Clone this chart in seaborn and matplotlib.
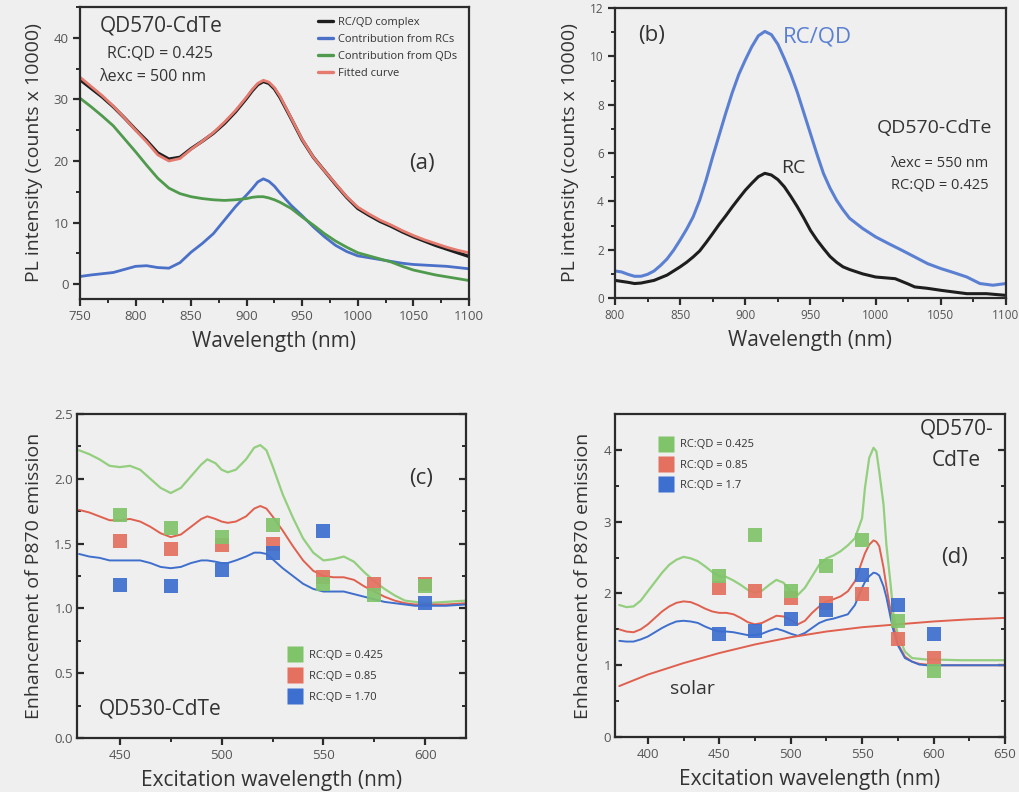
import numpy as np
import pandas as pd
import matplotlib
matplotlib.use("Agg")
import matplotlib.pyplot as plt
from matplotlib.lines import Line2D
from matplotlib.ticker import MultipleLocator, FormatStrFormatter
import seaborn as sns

# ---------------- data: panel (a) ----------------
wl_a = [750, 760, 770, 780, 790, 800, 810, 820, 830, 840, 850, 860, 870, 880, 890, 900,
        905, 910, 915, 920, 925, 930, 940, 950, 960, 970, 980, 990, 1000, 1010, 1020,
        1030, 1040, 1050, 1060, 1070, 1080, 1090, 1100]
complex_a = [33.2, 31.8, 30.4, 28.8, 27.0, 25.1, 23.3, 21.3, 20.3, 20.6, 22.0, 23.2, 24.5,
             26.1, 28.0, 30.2, 31.4, 32.4, 32.9, 32.6, 31.7, 30.3, 26.9, 23.4, 20.6, 18.4,
             16.2, 14.1, 12.3, 11.2, 10.2, 9.4, 8.5, 7.7, 7.0, 6.3, 5.7, 5.1, 4.5]
rcs_a = [1.25, 1.5, 1.7, 1.9, 2.4, 2.9, 3.0, 2.7, 2.6, 3.5, 5.2, 6.6, 8.2, 10.4, 12.6, 14.5,
         15.5, 16.6, 17.1, 16.7, 15.9, 14.8, 12.8, 11.1, 9.3, 7.7, 6.3, 5.3, 4.6, 4.3, 4.0,
         3.7, 3.4, 3.2, 3.1, 3.0, 2.9, 2.7, 2.5]
qds_a = [30.2, 28.8, 27.3, 25.7, 23.6, 21.5, 19.3, 17.2, 15.6, 14.7, 14.2, 13.9, 13.7, 13.6,
         13.7, 13.9, 14.1, 14.2, 14.2, 14.0, 13.7, 13.3, 12.3, 10.9, 9.6, 8.2, 7.0, 6.0,
         5.1, 4.6, 4.1, 3.6, 2.9, 2.3, 1.9, 1.5, 1.2, 0.9, 0.6]
fit_a = [33.6, 32.1, 30.6, 28.9, 27.0, 25.0, 23.1, 21.0, 20.0, 20.4, 21.9, 23.2, 24.6,
         26.3, 28.2, 30.4, 31.6, 32.6, 33.1, 32.8, 31.9, 30.5, 27.0, 23.5, 20.6, 18.4,
         16.3, 14.2, 12.5, 11.4, 10.4, 9.6, 8.7, 7.9, 7.2, 6.6, 6.0, 5.5, 5.1]

# ---------------- data: panel (b) ----------------
wl_b_rcqd = [800, 805, 810, 815, 820, 825, 830, 835, 840, 845, 850, 855, 860, 865, 870,
             875, 880, 885, 890, 895, 900, 905, 910, 915, 920, 925, 930, 935, 940, 945,
             950, 955, 960, 965, 970, 975, 980, 990, 1000, 1010, 1020, 1030, 1040, 1050,
             1060, 1070, 1080, 1090, 1100]
rcqd_b = [1.12, 1.08, 0.98, 0.90, 0.90, 0.98, 1.12, 1.35, 1.62, 1.98, 2.40, 2.85, 3.36,
          4.05, 4.90, 5.85, 6.75, 7.65, 8.50, 9.25, 9.85, 10.40, 10.85, 11.03, 10.90,
          10.50, 9.90, 9.25, 8.50, 7.65, 6.80, 5.95, 5.15, 4.55, 4.05, 3.65, 3.30, 2.88,
          2.53, 2.25, 1.98, 1.70, 1.42, 1.22, 1.05, 0.87, 0.60, 0.53, 0.60]
wl_b_rc = [800, 810, 815, 820, 830, 840, 850, 855, 860, 865, 870, 875, 880, 885, 890, 895,
           900, 905, 910, 915, 920, 925, 930, 935, 940, 945, 950, 955, 960, 965, 970, 975,
           980, 990, 1000, 1015, 1025, 1030, 1040, 1050, 1060, 1070, 1085, 1100]
rc_b = [0.73, 0.65, 0.60, 0.62, 0.73, 0.95, 1.29, 1.48, 1.70, 1.95, 2.30, 2.67, 3.05, 3.40,
        3.77, 4.12, 4.46, 4.75, 5.02, 5.16, 5.09, 4.90, 4.60, 4.20, 3.77, 3.30, 2.80, 2.40,
        2.05, 1.72, 1.48, 1.29, 1.18, 1.00, 0.87, 0.80, 0.58, 0.46, 0.40, 0.32, 0.25,
        0.18, 0.18, 0.11]

# ---------------- data: panel (c) ----------------
wl_c_line = [430, 435, 440, 445, 450, 455, 460, 465, 470, 475, 480, 485, 490, 493, 497,
             500, 503, 507, 512, 516, 519, 522, 525, 530, 535, 540, 545, 550, 555, 560,
             565, 570, 575, 580, 585, 590, 595, 600, 610, 620]
green_c = [2.22, 2.19, 2.15, 2.10, 2.09, 2.10, 2.07, 2.00, 1.93, 1.89, 1.93, 2.02, 2.11,
           2.15, 2.12, 2.07, 2.05, 2.07, 2.15, 2.24, 2.26, 2.22, 2.10, 1.88, 1.70, 1.54,
           1.43, 1.37, 1.38, 1.40, 1.36, 1.28, 1.21, 1.15, 1.10, 1.06, 1.05, 1.04, 1.05,
           1.06]
red_c = [1.76, 1.74, 1.71, 1.68, 1.68, 1.69, 1.67, 1.63, 1.58, 1.55, 1.57, 1.63, 1.69,
         1.71, 1.69, 1.67, 1.66, 1.67, 1.71, 1.77, 1.79, 1.77, 1.71, 1.60, 1.48, 1.37,
         1.29, 1.25, 1.24, 1.24, 1.22, 1.17, 1.13, 1.09, 1.06, 1.04, 1.03, 1.03, 1.03, 1.04]
blue_c = [1.42, 1.40, 1.39, 1.37, 1.37, 1.37, 1.37, 1.35, 1.32, 1.31, 1.32, 1.35, 1.37,
          1.37, 1.36, 1.35, 1.35, 1.37, 1.40, 1.43, 1.43, 1.42, 1.38, 1.31, 1.25, 1.19,
          1.15, 1.13, 1.13, 1.13, 1.11, 1.09, 1.07, 1.05, 1.04, 1.03, 1.02, 1.02, 1.02, 1.03]
wl_c_pts = [450, 475, 500, 525, 550, 575, 600]
green_c_pts = [1.72, 1.62, 1.55, 1.64, 1.19, 1.10, 1.17]
red_c_pts = [1.52, 1.46, 1.49, 1.50, 1.24, 1.19, 1.19]
blue_c_pts = [1.18, 1.17, 1.30, 1.43, 1.60, np.nan, 1.04]

# ---------------- data: panel (d) ----------------
wl_d_line = [380, 385, 390, 395, 400, 405, 410, 415, 420, 425, 430, 435, 440, 445, 450,
             455, 460, 465, 470, 475, 480, 485, 490, 495, 500, 505, 510, 515, 520, 525,
             530, 535, 540, 545, 550, 552, 555, 558, 560, 562, 565, 567, 570, 572, 575,
             580, 585, 590, 595, 600, 620, 650]
green_d = [1.84, 1.81, 1.82, 1.90, 2.03, 2.16, 2.29, 2.40, 2.47, 2.51, 2.49, 2.45, 2.38,
           2.30, 2.24, 2.23, 2.18, 2.12, 2.05, 2.01, 2.04, 2.12, 2.19, 2.15, 2.03, 1.98,
           2.08, 2.24, 2.40, 2.49, 2.53, 2.59, 2.67, 2.77, 3.05, 3.47, 3.89, 4.03, 3.98,
           3.70, 3.24, 2.68, 2.12, 1.70, 1.43, 1.19, 1.10, 1.09, 1.08, 1.08, 1.07, 1.07]
red_d = [1.50, 1.47, 1.46, 1.50, 1.57, 1.66, 1.75, 1.82, 1.87, 1.89, 1.88, 1.84, 1.79,
         1.75, 1.73, 1.73, 1.71, 1.66, 1.60, 1.57, 1.59, 1.64, 1.69, 1.68, 1.63, 1.57,
         1.62, 1.73, 1.82, 1.89, 1.92, 1.96, 2.03, 2.17, 2.45, 2.56, 2.68, 2.74, 2.72,
         2.66, 2.36, 2.10, 1.75, 1.55, 1.30, 1.12, 1.05, 1.02, 1.01, 1.00, 1.00, 1.00]
blue_d = [1.34, 1.33, 1.33, 1.36, 1.40, 1.46, 1.52, 1.57, 1.61, 1.62, 1.61, 1.59, 1.54,
          1.50, 1.47, 1.47, 1.46, 1.44, 1.42, 1.42, 1.44, 1.48, 1.51, 1.48, 1.44, 1.41,
          1.45, 1.52, 1.59, 1.63, 1.65, 1.68, 1.71, 1.84, 2.08, 2.16, 2.24, 2.29, 2.28,
          2.25, 2.10, 1.95, 1.66, 1.48, 1.28, 1.10, 1.05, 1.01, 1.00, 1.00, 1.00, 1.00]
wl_solar = [380, 400, 425, 450, 475, 500, 525, 550, 575, 600, 625, 650]
solar_d = [0.71, 0.87, 1.03, 1.17, 1.29, 1.39, 1.47, 1.53, 1.57, 1.61, 1.64, 1.66]
wl_d_pts = [450, 475, 500, 525, 550, 575, 600]
green_d_pts = [2.24, 2.82, 2.03, 2.38, 2.75, 1.61, 0.92]
red_d_pts = [2.08, 2.03, 1.94, 1.87, 1.99, 1.36, 1.10]
blue_d_pts = [1.44, 1.48, 1.64, 1.77, 2.26, 1.84, 1.44]

ratio_labels_c = ["RC:QD = 0.425", "RC:QD = 0.85", "RC:QD = 1.70"]
ratio_labels_d = ["RC:QD = 0.425", "RC:QD = 0.85", "RC:QD = 1.7"]

# ---------------- style ----------------
BG = "#efefef"
sns.set_theme(style="ticks")
plt.rcParams["font.family"] = ["Open Sans", "DejaVu Sans"]
plt.rcParams["axes.edgecolor"] = "#2b2b2b"
plt.rcParams["axes.linewidth"] = 1.6

C_BLACK = "#1e1e1e"
C_BLUE_A = "#4a70c8"
C_GREEN_A = "#4f9a4c"
C_RED_A = "#e57a6e"
C_BLUE_B = "#5b80d2"
G_LINE = "#93cf7e"
R_LINE = "#e0604f"
B_LINE = "#3f6fcc"
G_PT = "#80c46a"
R_PT = "#e4705f"
B_PT = "#3d6fd0"
TXT = "#333333"
TICK = "#555555"

fig = plt.figure(figsize=(10.19, 7.92), dpi=100, facecolor=BG)
ax_a = fig.add_axes([0.0785, 0.6225, 0.3817, 0.3687])
ax_b = fig.add_axes([0.6035, 0.6237, 0.3837, 0.3662])
ax_c = fig.add_axes([0.0756, 0.0682, 0.3817, 0.4091])
ax_d = fig.add_axes([0.6035, 0.0694, 0.3827, 0.4078])


def style_axes(ax, xmaj, xmin, ymaj, ymin, right_ticks=False):
    ax.set_facecolor(BG)
    ax.xaxis.set_major_locator(MultipleLocator(xmaj))
    ax.xaxis.set_minor_locator(MultipleLocator(xmin))
    ax.yaxis.set_major_locator(MultipleLocator(ymaj))
    ax.yaxis.set_minor_locator(MultipleLocator(ymin))
    ax.tick_params(which="major", direction="out", length=5, width=1.6,
                   labelsize=9.5, labelcolor=TICK, color="#2b2b2b", pad=3)
    ax.tick_params(which="minor", direction="out", length=3, width=1.4, color="#2b2b2b")
    if right_ticks:
        ax.tick_params(which="both", right=True, direction="in")
        ax.tick_params(which="both", axis="x", direction="out")
        ax.tick_params(which="both", axis="y", left=True)
    for s in ax.spines.values():
        s.set_visible(True)


def draw_line(ax, x, y, color, lw):
    df = pd.DataFrame({"x": x, "y": y})
    sns.lineplot(data=df, x="x", y="y", ax=ax, color=color, lw=lw, estimator=None,
                 sort=False)


def draw_pts(ax, x, y, color):
    df = pd.DataFrame({"x": x, "y": y}).dropna()
    sns.scatterplot(data=df, x="x", y="y", ax=ax, color=color, marker="s", s=115,
                    linewidth=0, alpha=0.92, zorder=3)


# ---------------- (a) ----------------
draw_line(ax_a, wl_a, complex_a, C_BLACK, 2.4)
draw_line(ax_a, wl_a, rcs_a, C_BLUE_A, 2.0)
draw_line(ax_a, wl_a, qds_a, C_GREEN_A, 2.0)
draw_line(ax_a, wl_a, fit_a, C_RED_A, 2.0)
ax_a.set_xlim(750, 1100)
ax_a.set_ylim(-2.4, 45)
style_axes(ax_a, 50, 25, 10, 5)
ax_a.set_xlabel("Wavelength (nm)", fontsize=15, color=TXT, labelpad=6)
ax_a.set_ylabel("PL intensity (counts x 10000)", fontsize=14, color=TXT, labelpad=8)
handles_a = [Line2D([], [], color=c, lw=2.4) for c in (C_BLACK, C_BLUE_A, C_GREEN_A, C_RED_A)]
ax_a.legend(handles_a, ["RC/QD complex", "Contribution from RCs",
                        "Contribution from QDs", "Fitted curve"],
            loc="upper left", bbox_to_anchor=(0.585, 1.0), frameon=False, fontsize=8,
            handlelength=1.4, handletextpad=0.4, labelspacing=0.55, labelcolor=TXT)
ax_a.text(0.05, 0.935, "QD570-CdTe", transform=ax_a.transAxes, fontsize=15,
          color=TXT, va="center")
ax_a.text(0.07, 0.84, "RC:QD = 0.425", transform=ax_a.transAxes, fontsize=11.5,
          color=TXT, va="center")
ax_a.text(0.05, 0.76, "λexc = 500 nm", transform=ax_a.transAxes, fontsize=11.5,
          color=TXT, va="center")
ax_a.text(0.845, 0.465, "(a)", transform=ax_a.transAxes, fontsize=16, color=TXT,
          va="center")

# ---------------- (b) ----------------
draw_line(ax_b, wl_b_rcqd, rcqd_b, C_BLUE_B, 2.2)
draw_line(ax_b, wl_b_rc, rc_b, C_BLACK, 2.2)
ax_b.set_xlim(800, 1100)
ax_b.set_ylim(0, 12)
style_axes(ax_b, 50, 25, 2, 1)
ax_b.tick_params(labelsize=8.5)
ax_b.set_xlabel("Wavelength (nm)", fontsize=15, color=TXT, labelpad=6)
ax_b.set_ylabel("PL intensity (counts x 10000)", fontsize=14, color=TXT, labelpad=8)
ax_b.text(0.06, 0.905, "(b)", transform=ax_b.transAxes, fontsize=16, color=TXT,
          va="center")
ax_b.text(0.43, 0.90, "RC/QD", transform=ax_b.transAxes, fontsize=16, color=C_BLUE_B,
          va="center")
ax_b.text(0.425, 0.45, "RC", transform=ax_b.transAxes, fontsize=14, color=TXT,
          va="center")
ax_b.text(0.965, 0.585, "QD570-CdTe", transform=ax_b.transAxes, fontsize=14, color=TXT,
          va="center", ha="right")
ax_b.text(0.955, 0.465, "λexc = 550 nm", transform=ax_b.transAxes, fontsize=10.5,
          color=TXT, va="center", ha="right")
ax_b.text(0.955, 0.39, "RC:QD = 0.425", transform=ax_b.transAxes, fontsize=10.5,
          color=TXT, va="center", ha="right")

# ---------------- (c) ----------------
draw_line(ax_c, wl_c_line, green_c, G_LINE, 1.6)
draw_line(ax_c, wl_c_line, red_c, R_LINE, 1.4)
draw_line(ax_c, wl_c_line, blue_c, B_LINE, 1.4)
draw_pts(ax_c, wl_c_pts, red_c_pts, R_PT)
draw_pts(ax_c, wl_c_pts, green_c_pts, G_PT)
draw_pts(ax_c, wl_c_pts, blue_c_pts, B_PT)
ax_c.set_xlim(429, 620)
ax_c.set_ylim(0, 2.5)
style_axes(ax_c, 50, 25, 0.5, 0.25, right_ticks=True)
ax_c.yaxis.set_major_formatter(FormatStrFormatter("%.1f"))
ax_c.set_xlabel("Excitation wavelength (nm)", fontsize=15, color=TXT, labelpad=6)
ax_c.set_ylabel("Enhancement of P870 emission", fontsize=14, color=TXT, labelpad=8)
handles_c = [Line2D([], [], ls="none", marker="s", ms=12, mec="none", mfc=c)
             for c in (G_PT, R_PT, B_PT)]
ax_c.legend(handles_c, ratio_labels_c, loc="upper left", bbox_to_anchor=(0.52, 0.285),
            frameon=False, fontsize=8, handletextpad=0.3, labelspacing=0.9,
            labelcolor=TXT, borderaxespad=0)
ax_c.text(0.055, 0.09, "QD530-CdTe", transform=ax_c.transAxes, fontsize=15, color=TXT,
          va="center")
ax_c.text(0.855, 0.80, "(c)", transform=ax_c.transAxes, fontsize=16, color=TXT,
          va="center")

# ---------------- (d) ----------------
draw_line(ax_d, wl_d_line, green_d, G_LINE, 1.6)
draw_line(ax_d, wl_d_line, red_d, R_LINE, 1.4)
draw_line(ax_d, wl_d_line, blue_d, B_LINE, 1.4)
draw_line(ax_d, wl_solar, solar_d, R_LINE, 1.4)
draw_pts(ax_d, wl_d_pts, red_d_pts, R_PT)
draw_pts(ax_d, wl_d_pts, green_d_pts, G_PT)
draw_pts(ax_d, wl_d_pts, blue_d_pts, B_PT)
ax_d.set_xlim(377, 650)
ax_d.set_ylim(0, 4.5)
style_axes(ax_d, 50, 25, 1, 0.5, right_ticks=True)
ax_d.set_xlabel("Excitation wavelength (nm)", fontsize=15, color=TXT, labelpad=6)
ax_d.set_ylabel("Enhancement of P870 emission", fontsize=14, color=TXT, labelpad=8)
handles_d = [Line2D([], [], ls="none", marker="s", ms=11, mec="none", mfc=c)
             for c in (G_PT, R_PT, B_PT)]
ax_d.legend(handles_d, ratio_labels_d, loc="upper left", bbox_to_anchor=(0.09, 0.935),
            frameon=False, fontsize=8, handletextpad=0.3, labelspacing=0.85,
            labelcolor=TXT, borderaxespad=0)
ax_d.text(0.875, 0.955, "QD570-", transform=ax_d.transAxes, fontsize=15, color=TXT,
          va="center", ha="center")
ax_d.text(0.875, 0.855, "CdTe", transform=ax_d.transAxes, fontsize=15, color=TXT,
          va="center", ha="center")
ax_d.text(0.87, 0.555, "(d)", transform=ax_d.transAxes, fontsize=16, color=TXT,
          va="center", ha="center")
ax_d.text(0.14, 0.15, "solar", transform=ax_d.transAxes, fontsize=14, color=TXT,
          va="center")

fig.savefig("out.png", dpi=100, facecolor=BG)
